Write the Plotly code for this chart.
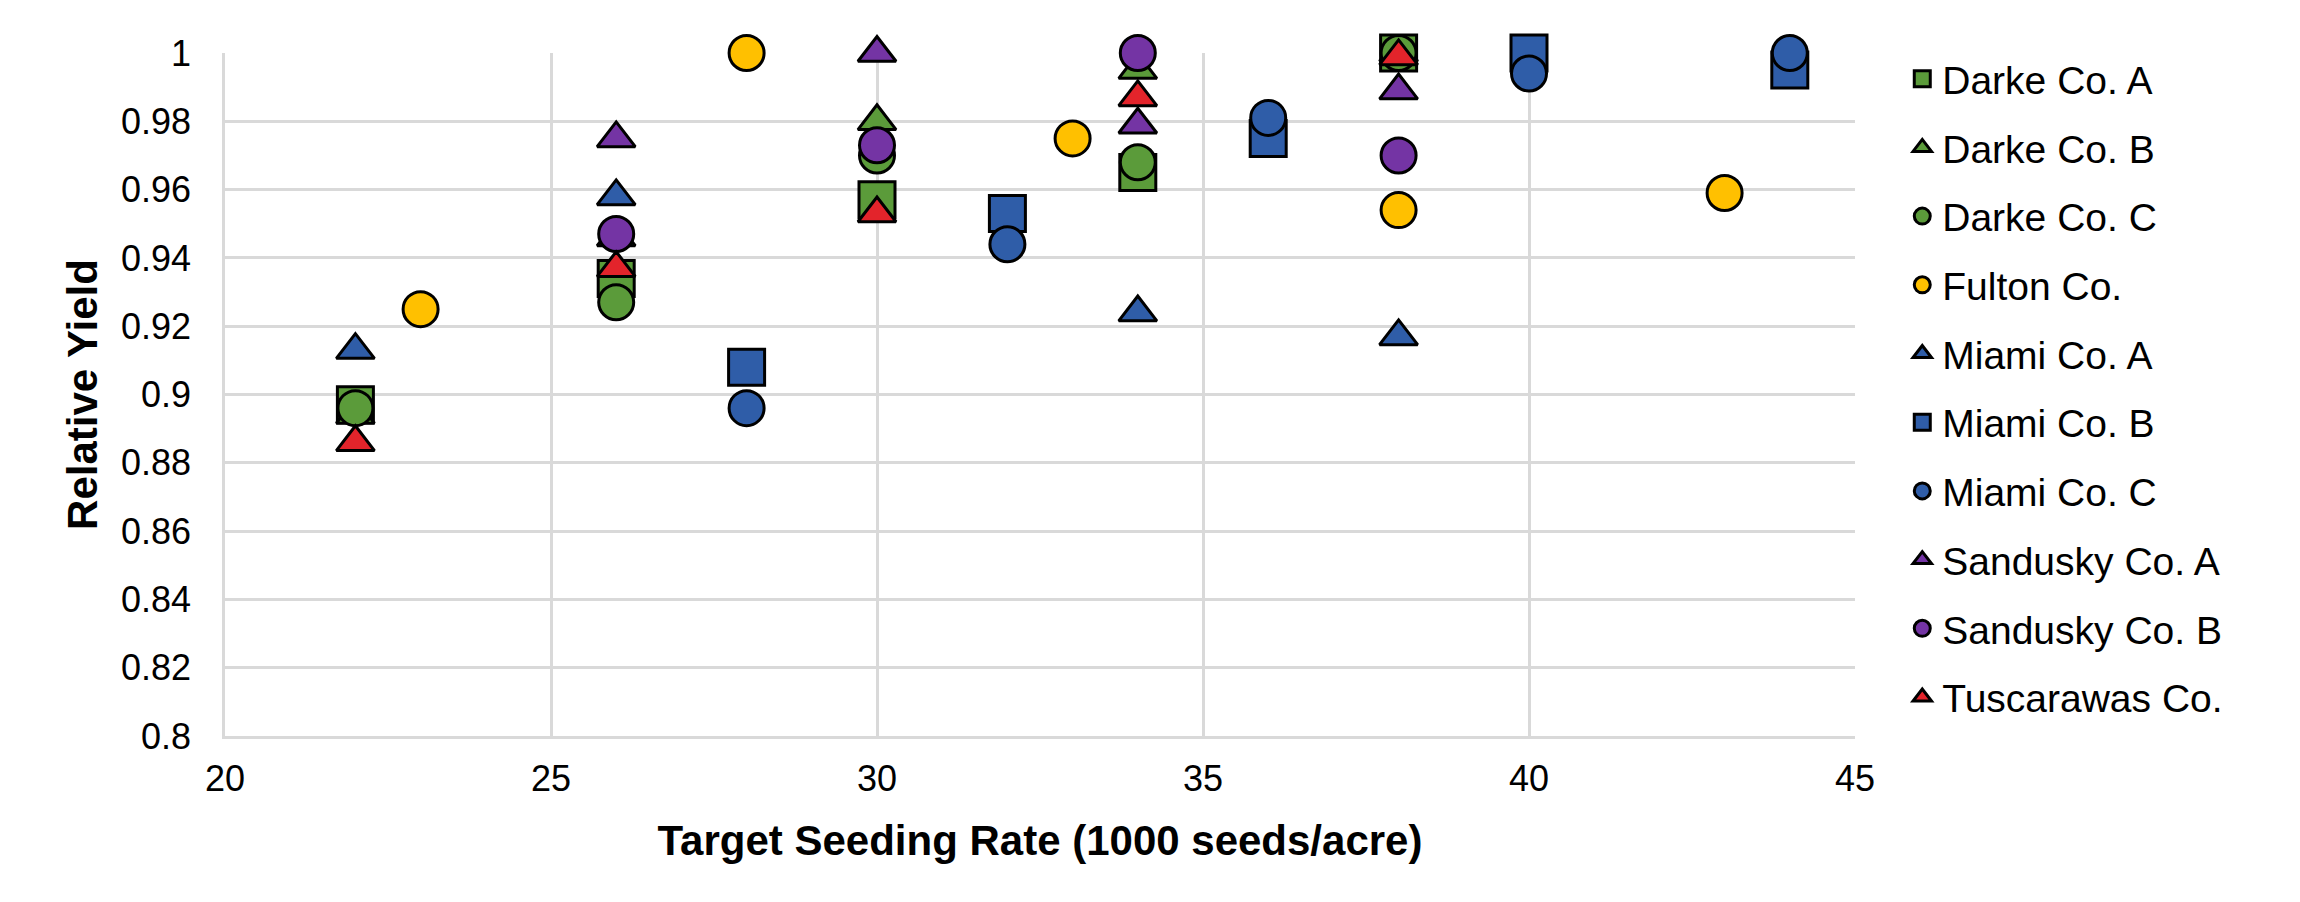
import plotly.graph_objects as go

series_names = ["Darke Co. A", "Darke Co. B", "Darke Co. C", "Fulton Co.", "Miami Co. A",
                "Miami Co. B", "Miami Co. C", "Sandusky Co. A", "Sandusky Co. B", "Tuscarawas Co."]

darke_a_x = [22, 26, 30, 34, 38]
darke_a_y = [0.897, 0.934, 0.957, 0.965, 1.0]
darke_b_x = [22, 26, 30, 34, 38]
darke_b_y = [0.894, 0.946, 0.980, 0.995, 1.0]
darke_c_x = [22, 26, 30, 34, 38]
darke_c_y = [0.896, 0.927, 0.970, 0.968, 1.0]
fulton_x = [23, 28, 33, 38, 43]
fulton_y = [0.925, 1.0, 0.975, 0.954, 0.959]
miami_a_x = [22, 26, 34, 38]
miami_a_y = [0.913, 0.958, 0.924, 0.917]
miami_b_x = [28, 32, 36, 40, 44]
miami_b_y = [0.908, 0.953, 0.975, 1.0, 0.995]
miami_c_x = [28, 32, 36, 40, 44]
miami_c_y = [0.896, 0.944, 0.981, 0.994, 1.0]
sandusky_a_x = [26, 30, 34, 38]
sandusky_a_y = [0.975, 1.0, 0.979, 0.989]
sandusky_b_x = [26, 30, 34, 38]
sandusky_b_y = [0.947, 0.973, 1.0, 0.970]
tusc_x = [22, 26, 30, 34, 38]
tusc_y = [0.886, 0.937, 0.953, 0.987, 0.999]

xs = [darke_a_x, darke_b_x, darke_c_x, fulton_x, miami_a_x, miami_b_x, miami_c_x,
      sandusky_a_x, sandusky_b_x, tusc_x]
ys = [darke_a_y, darke_b_y, darke_c_y, fulton_y, miami_a_y, miami_b_y, miami_c_y,
      sandusky_a_y, sandusky_b_y, tusc_y]

GREEN = "#5B9B3A"
YELLOW = "#FFC000"
BLUE = "#2F5DA8"
PURPLE = "#7434A4"
RED = "#E3242B"
colors = [GREEN, GREEN, GREEN, YELLOW, BLUE, BLUE, BLUE, PURPLE, PURPLE, RED]
symbols = ["square", "triangle-up", "circle", "circle", "triangle-up", "square", "circle",
           "triangle-up", "circle", "triangle-up"]
size_by_symbol = {"square": 36, "circle": 35, "triangle-up": 33}

font_family = "Liberation Sans, Arial, sans-serif"

fig = go.Figure()
for name, x, y, c, s in zip(series_names, xs, ys, colors, symbols):
    fig.add_trace(go.Scatter(
        x=x, y=y, mode="markers", name=name, legendgroup=name,
        cliponaxis=False,
        marker=dict(symbol=s, color=c, size=size_by_symbol[s],
                    line=dict(color="black", width=3)),
    ))

fig.update_layout(
    width=2300, height=902,
    margin=dict(l=217, r=453, t=45, b=174),
    paper_bgcolor="white", plot_bgcolor="white",
    font=dict(family=font_family, size=36, color="black"),
    showlegend=True,
    legend=dict(x=1.029, y=1.009, xanchor="left", yanchor="top",
                font=dict(family=font_family, size=39, color="black"),
                tracegroupgap=15, itemsizing="trace", maxheight=900,
                bgcolor="rgba(0,0,0,0)"),
)

fig.update_xaxes(
    range=[20, 45], dtick=5, tick0=20,
    showgrid=True, gridcolor="#D9D9D9", gridwidth=2.5,
    zeroline=False, showline=True, linecolor="#D9D9D9", linewidth=2.5,
    ticks="", ticklabelstandoff=9,
    tickfont=dict(family=font_family, size=36, color="black"),
    title=dict(text="Target Seeding Rate (1000 seeds/acre)",
               font=dict(family=font_family, size=42, color="black", weight="bold"),
               standoff=28),
)
fig.update_yaxes(
    range=[0.8, 1.0], dtick=0.02, tick0=0.8,
    showgrid=True, gridcolor="#D9D9D9", gridwidth=2.5,
    zeroline=False, showline=True, linecolor="#D9D9D9", linewidth=2.5,
    ticks="", ticklabelstandoff=24,
    tickfont=dict(family=font_family, size=36, color="black"),
    title=dict(text="Relative Yield",
               font=dict(family=font_family, size=42, color="black", weight="bold"),
               standoff=11),
)

fig.write_html("out.html")
